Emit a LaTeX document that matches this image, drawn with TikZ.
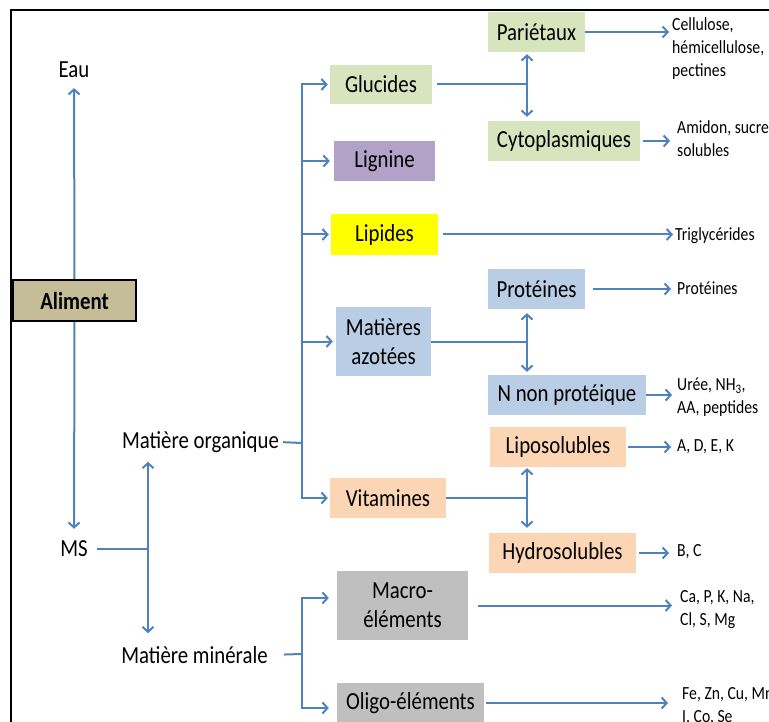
\documentclass[tikz,border=0pt]{standalone}
\usepackage{fontspec}
\setmainfont{Carlito}[FakeStretch=0.85]
\usetikzlibrary{arrows.meta}
\definecolor{arrc}{HTML}{4F81BD}
\definecolor{alic}{HTML}{C4BD97}
\definecolor{grn}{HTML}{D7E4BD}
\definecolor{pur}{HTML}{B3A2C7}
\definecolor{yel}{HTML}{FFFF00}
\definecolor{blu}{HTML}{B9CDE5}
\definecolor{pch}{HTML}{FCD5B5}
\definecolor{gry}{HTML}{BFBFBF}
\begin{document}
\begin{tikzpicture}[x=1pt,y=-1pt,
  arr/.style={draw=arrc,line width=2pt,-{Straight Barb[length=5pt,width=11pt]}},
  ln/.style={draw=arrc,line width=2pt},
  box/.style={inner sep=0pt,minimum height=40pt,font=\fontsize{24.5}{29}\selectfont,align=center},
  lbl/.style={inner sep=0pt,font=\fontsize{24.5}{29}\selectfont},
  res/.style={inner sep=0pt,anchor=west,align=left,font=\fontsize{18.5}{23}\selectfont},
]
\useasboundingbox (0,0) rectangle (769,722);
\clip (0,0) rectangle (769,722);
% frame
\draw[line width=2pt] (11,730) -- (11,10) -- (780,10);

% left part
\node[box,draw=black,line width=1.8pt,fill=alic,minimum width=123pt,minimum height=41pt,font=\fontsize{24.5}{29}\selectfont\bfseries] (ali) at (74.5,300.5) {Aliment};
\node[lbl] (eau) at (74,70) {Eau};
\node[lbl] (ms) at (74,549) {MS};
\node[lbl] (mo) at (200.5,442) {Matière organique};
\node[lbl] (mm) at (194.5,655) {Matière minérale};
\coordinate (j1) at (148,549);
\coordinate (b1) at (302,443);
\coordinate (b2) at (302,654);

\draw[arr,shorten >=10pt] (ali.north) -- (eau.south);
\draw[arr,shorten >=12pt] (ali.south) -- (ms.north);
\draw[ln,shorten <=9pt] (ms.east) -- (j1);
\draw[arr,shorten >=9pt] (j1) -- (j1 |- mo.south);
\draw[arr,shorten >=13pt] (j1) -- (j1 |- mm.north);

% organic boxes
\node[box,fill=grn,minimum width=102pt,minimum height=39pt] (glu) at (381,84.5) {Glucides};
\node[box,fill=pur,minimum width=101pt] (lig) at (384.5,161) {Lignine};
\node[box,fill=yel,minimum width=107pt,minimum height=41pt] (lip) at (384.5,234.5) {Lipides};
\node[box,fill=blu,minimum width=95pt,minimum height=69pt] (azo) at (383.5,341.5) {Matières\\azotées};
\node[box,fill=pch,minimum width=116pt] (vit) at (388,498) {Vitamines};

\draw[ln,shorten <=4pt] (mo.east) -- (b1);
\draw[ln] ([yshift=1pt]b1 |- glu.west) -- ([yshift=-1pt]b1 |- vit.west);
\draw[arr,shorten >=2pt] (b1 |- glu.west) -- (glu.west);
\draw[arr,shorten >=4pt] (b1 |- lig.west) -- (lig.west);
\draw[arr,shorten >=2pt] (b1 |- lip.west) -- (lip.west);
\draw[arr,shorten >=3pt] (b1 |- azo.west) -- (azo.west);
\draw[arr,shorten >=2pt] (b1 |- vit.west) -- (vit.west);

% mineral boxes
\node[box,fill=gry,minimum width=131pt,minimum height=69pt] (mac) at (402.5,605.5) {Macro-\\éléments};
\node[box,fill=gry,minimum width=147pt] (oli) at (410.5,703) {Oligo-éléments};
\draw[ln,shorten <=16pt] (mm.east) -- (b2);
\coordinate (m1) at (302,598);
\coordinate (m2) at (302,708);
\draw[ln] ([yshift=1pt]m1) -- ([yshift=-1pt]m2);
\draw[arr,shorten >=8pt] (m1) -- (m1 -| mac.west);
\draw[arr,shorten >=8pt] (m2) -- (m2 -| oli.west);

% second level
\node[box,fill=grn,minimum width=97pt] (par) at (536.5,32) {Pariétaux};
\node[box,fill=grn,minimum width=152pt] (cyt) at (564,141) {Cytoplasmiques};
\node[box,fill=blu,minimum width=97pt] (pro) at (536.5,289) {Protéines};
\node[box,fill=blu,minimum width=158pt] (nnp) at (567,395) {N non protéique};
\node[box,fill=pch,minimum width=136pt] (lps) at (558,447) {Liposolubles};
\node[box,fill=pch,minimum width=147pt] (hyd) at (562.5,553) {Hydrosolubles};

\coordinate (g1) at (527,84.5);
\coordinate (g2) at (527,341.5);
\coordinate (g3) at (527,498);
\draw[ln,shorten <=5pt] (glu.east) -- (g1);
\draw[arr,shorten >=2pt] (g1) -- (g1 |- par.south);
\draw[arr,shorten >=4pt] (g1) -- (g1 |- cyt.north);
\draw[ln] (azo.east) -- (g2);
\draw[arr,shorten >=4pt] (g2) -- (g2 |- pro.south);
\draw[arr,shorten >=3pt] (g2) -- (g2 |- nnp.north);
\draw[ln] (vit.east) -- (g3);
\draw[arr,shorten >=1pt] (g3) -- (g3 |- lps.south);
\draw[arr,shorten >=5pt] (g3) -- (g3 |- hyd.north);

% results
\node[res] (cel) at (672,48.5) {Cellulose,\\hémicellulose,\\pectines};
\node[res] (ami) at (677,138.5) {Amidon, sucres\\solubles};
\node[res] (tri) at (675,236) {Triglycérides};
\node[res] (rpr) at (677,288) {Protéines};
\node[res] (ure) at (677,397.5) {Urée, NH\textsubscript{3},\\AA, peptides};
\node[res] (ade) at (677,447) {A, D, E, K};
\node[res] (bc) at (677,552) {B, C};
\node[res] (cap) at (680,609.5) {Ca, P, K, Na,\\Cl, S, Mg};
\node[res] (fez) at (682,706) {Fe, Zn, Cu, Mn\\I, Co, Se};

\draw[arr,shorten >=3pt] (par.east) -- (par.east -| cel.west);
\draw[arr,shorten <=3pt,shorten >=7pt] (cyt.east) -- (cyt.east -| ami.west);
\draw[arr,shorten <=5pt,shorten >=2pt] (lip.east) -- (lip.east -| tri.west);
\draw[arr,shorten <=8pt,shorten >=6pt] (pro.east) -- (pro.east -| rpr.west);
\draw[arr,shorten >=5pt] (nnp.east) -- (nnp.east -| ure.west);
\draw[arr,shorten <=2pt,shorten >=6pt] (lps.east) -- (lps.east -| ade.west);
\draw[arr,shorten <=3pt,shorten >=8pt] (hyd.east) -- (hyd.east -| bc.west);
\draw[arr,shorten <=10pt,shorten >=8pt] (mac.east) -- (mac.east -| cap.west);
\draw[arr,shorten <=2pt,shorten >=14pt] (oli.east) -- (oli.east -| fez.west);
\end{tikzpicture}
\end{document}
